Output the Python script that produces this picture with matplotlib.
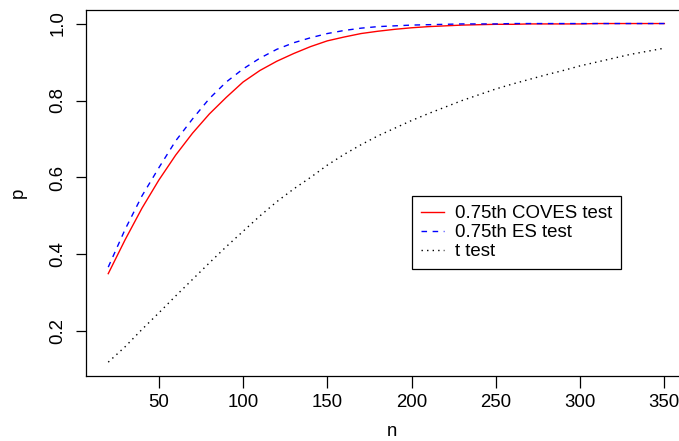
import matplotlib.pyplot as plt
import numpy as np

plt.rcParams["font.family"] = ["Liberation Sans", "DejaVu Sans"]

# sample sizes and power values
n = [20, 30, 40, 50, 60, 70, 80, 90, 100, 110, 120, 130, 140, 150, 160, 170,
     180, 190, 200, 210, 220, 230, 240, 250, 260, 270, 280, 290, 300, 310,
     320, 330, 340, 350]

coves = [0.350, 0.438, 0.520, 0.593, 0.658, 0.715, 0.765, 0.808, 0.848, 0.878,
         0.902, 0.922, 0.940, 0.955, 0.965, 0.974, 0.980, 0.985, 0.989, 0.992,
         0.994, 0.996, 0.997, 0.998, 0.998, 0.999, 0.999, 0.999, 0.999, 1.000,
         1.000, 1.000, 1.000, 1.000]

es = [0.367, 0.465, 0.552, 0.625, 0.695, 0.752, 0.805, 0.848, 0.882, 0.910,
      0.933, 0.950, 0.963, 0.974, 0.982, 0.988, 0.992, 0.994, 0.996, 0.997,
      0.998, 0.999, 0.999, 0.999, 1.000, 1.000, 1.000, 1.000, 1.000, 1.000,
      1.000, 1.000, 1.000, 1.000]

ttest = [0.120, 0.160, 0.205, 0.248, 0.292, 0.335, 0.378, 0.420, 0.460, 0.500,
         0.537, 0.570, 0.600, 0.632, 0.660, 0.685, 0.708, 0.728, 0.748, 0.766,
         0.783, 0.800, 0.815, 0.830, 0.843, 0.855, 0.867, 0.878, 0.890, 0.900,
         0.910, 0.920, 0.928, 0.936]

labels = ["0.75th COVES test", "0.75th ES test", "t test"]
xticks = [50, 100, 150, 200, 250, 300, 350]
yticks = [0.2, 0.4, 0.6, 0.8, 1.0]

FS = 13.4
W, H = 679, 441

fig = plt.figure(figsize=(W / 100, H / 100), dpi=100)
# plot region runs past the right edge of the picture, like the reference
ax = fig.add_axes([86 / W, 1 - 375.7 / H, 600.6 / W, 365.7 / H])

ax.plot(n, coves, color="red", lw=1.0, label=labels[0])
ax.plot(n, es, color="blue", lw=1.0, dashes=(4, 4), label=labels[1])
ax.plot(n, ttest, color="black", lw=1.0, dashes=(1, 3), label=labels[2])

# R style 4% padding
xr = max(n) - min(n)
ax.set_xlim(min(n) - 0.04 * xr, max(n) + 0.04 * xr)
allp = coves + es + ttest
yr = max(allp) - min(allp)
ax.set_ylim(min(allp) - 0.04 * yr, max(allp) + 0.04 * yr)

ax.set_xticks(xticks)
ax.set_xticklabels([str(v) for v in xticks], fontsize=FS)
ax.set_yticks(yticks)
ax.set_yticklabels([f"{v:.1f}" for v in yticks], fontsize=FS, rotation=90,
                   va="center")
ax.tick_params(axis="x", length=8.5, width=0.9, pad=5)
ax.tick_params(axis="y", length=7, width=0.9, pad=7)
for s in ax.spines.values():
    s.set_linewidth(0.9)

fig.text(392 / W, 1 - 432 / H, "n", fontsize=FS, ha="center", va="center")
fig.text(18 / W, 1 - 193 / H, "p", fontsize=FS, ha="center", va="center",
         rotation=90)

leg = ax.legend(loc="upper left", bbox_to_anchor=(411.7 / W, 1 - 196 / H),
                bbox_transform=fig.transFigure, borderaxespad=0,
                fontsize=FS, frameon=True, fancybox=False, framealpha=1,
                edgecolor="black", handlelength=1.22, handletextpad=0.58,
                borderpad=0.5, labelspacing=0.1)
leg.get_frame().set_linewidth(0.9)

fig.savefig("out.png", dpi=100)
